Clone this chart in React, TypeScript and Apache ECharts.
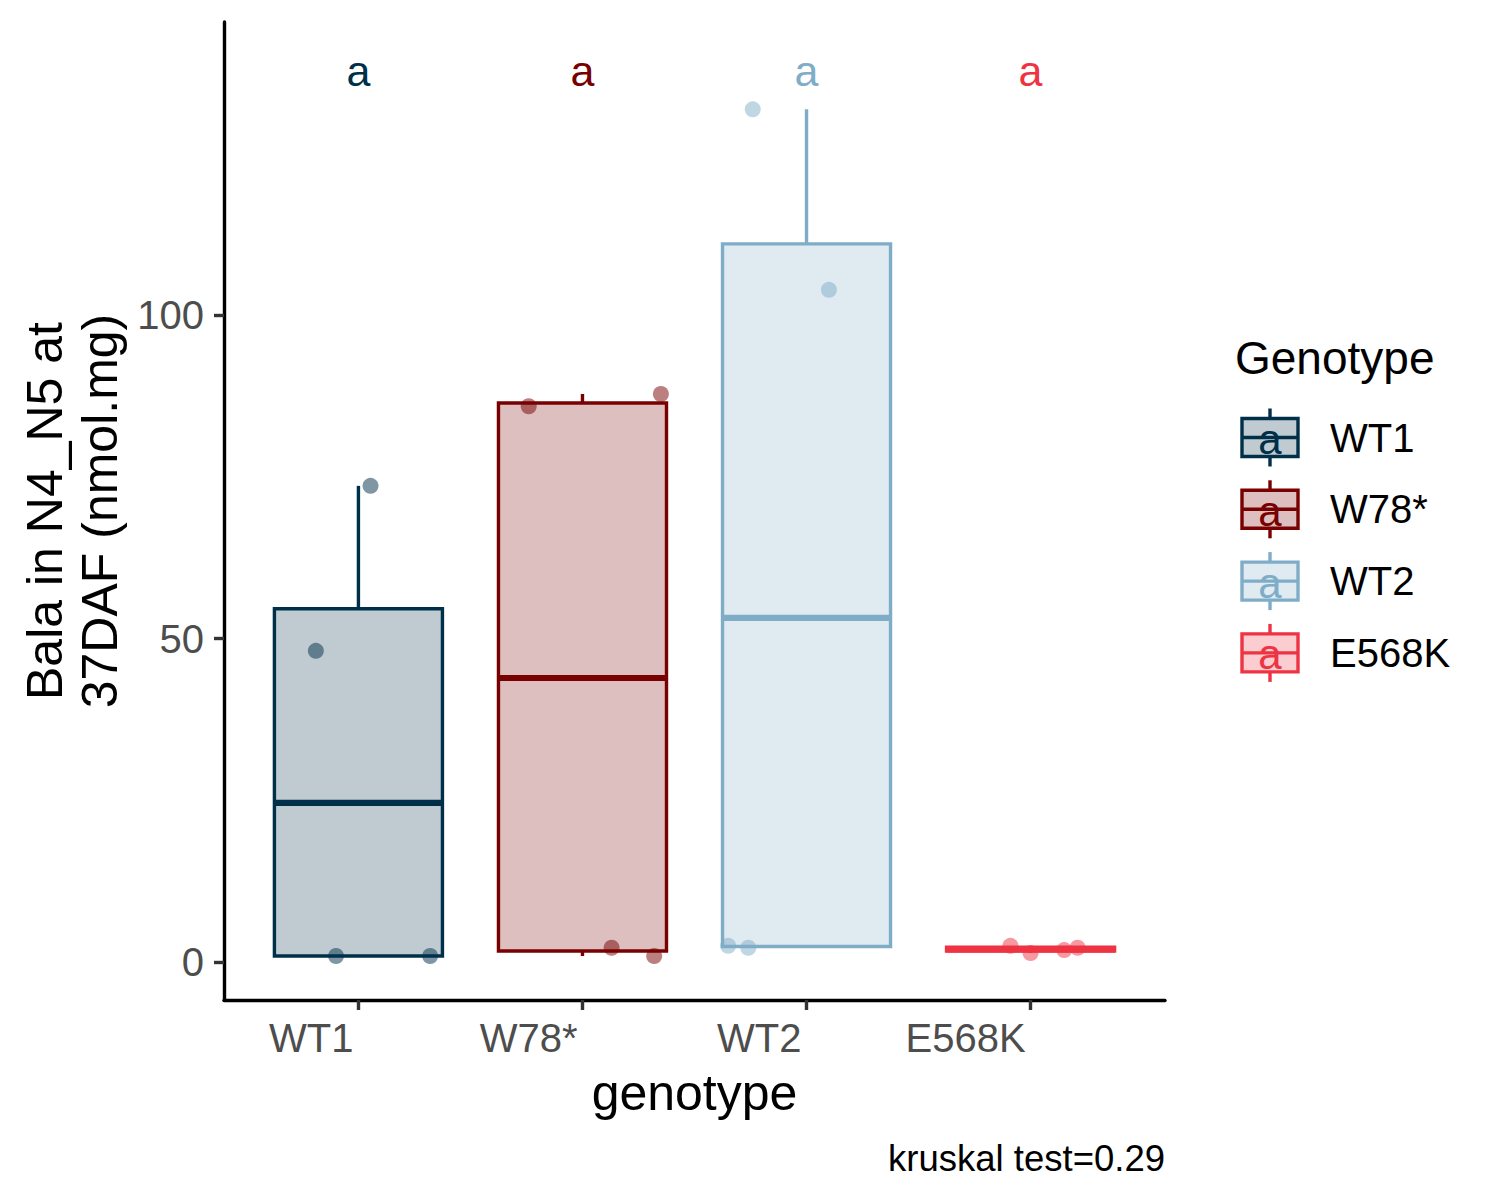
import React, { useEffect, useRef } from "react";
import * as echarts from "echarts";

// ---- data ----
const genotypes = ["WT1", "W78*", "WT2", "E568K"];
const colors = ["#003049", "#780000", "#7fadc8", "#ee3342"];
const whiskerLow = [0.93, 0.93, 2.2, 1.4];
const hingeLow = [0.93, 1.7, 2.4, 1.7];
const medians = [24.6, 43.9, 53.2, 1.95];
const hingeHigh = [54.6, 86.4, 111.0, 2.3];
const whiskerHigh = [73.6, 87.8, 131.8, 2.5];

const pointGroup = [0, 0, 0, 0, 1, 1, 1, 1, 2, 2, 2, 2, 3, 3, 3, 3];
const pointJitter = [-0.19, 0.054, -0.1, 0.32, -0.24, 0.35, 0.13, 0.32, -0.24, 0.1, -0.35, -0.26, -0.09, 0.0, 0.15, 0.21];
const pointValues = [48.1, 73.6, 0.93, 0.93, 85.9, 87.8, 2.2, 0.93, 131.8, 103.9, 2.5, 2.2, 2.5, 1.4, 1.85, 2.2];

const letters = ["a", "a", "a", "a"];
const letterY = 137.8;
const yTicks = [0, 50, 100];
const xTicks = [1, 2, 3, 4];
const captionText = "kruskal test=0.29";
const legendTitle = "Genotype";
const xTitle = "genotype";
const yTitle = "Bala in N4_N5 at\n37DAF (nmol.mg)";

const FONT = "'Liberation Sans', Arial, sans-serif";

function rgba(hex: string, a: number) {
  const h = hex.replace("#", "");
  const r = parseInt(h.slice(0, 2), 16);
  const g = parseInt(h.slice(2, 4), 16);
  const b = parseInt(h.slice(4, 6), 16);
  return `rgba(${r},${g},${b},${a})`;
}

export default function App() {
  const ref = useRef<HTMLDivElement>(null);

  useEffect(() => {
    if (!ref.current) return;
    document.body.style.margin = "0";
    const chart = echarts.init(ref.current, undefined, { renderer: "svg" });

    const half = 0.375;
    const LW = 3.4;
    const MEDLW = 6.2;

    const boxData = genotypes.map((_, i) => [
      i + 1,
      whiskerLow[i],
      hingeLow[i],
      medians[i],
      hingeHigh[i],
      whiskerHigh[i],
    ]);

    const pointSeries = genotypes.map((name, g) => ({
      type: "scatter",
      name,
      symbolSize: 16,
      itemStyle: { color: colors[g], opacity: 0.5 },
      data: pointValues
        .map((v, k) => ({ v, k }))
        .filter((o) => pointGroup[o.k] === g)
        .map((o) => [g + 1 + pointJitter[o.k], o.v]),
      z: 2,
    }));

    // legend graphic
    const legendX0 = 1242;
    const legendX1 = 1298;
    const legendCx = (legendX0 + legendX1) / 2;
    const legendChildren: any[] = [
      {
        type: "text",
        x: 1235,
        y: 358,
        style: {
          text: legendTitle,
          fontSize: 46,
          fontFamily: FONT,
          fill: "#000",
          align: "left",
          verticalAlign: "middle",
        },
      },
    ];
    genotypes.forEach((name, i) => {
      const yc = 437.5 + 71.8 * i;
      const c = colors[i];
      legendChildren.push(
        { type: "line", shape: { x1: legendCx, y1: yc - 29, x2: legendCx, y2: yc - 19 }, style: { stroke: c, lineWidth: LW } },
        { type: "line", shape: { x1: legendCx, y1: yc + 19, x2: legendCx, y2: yc + 29 }, style: { stroke: c, lineWidth: LW } },
        {
          type: "rect",
          shape: { x: legendX0, y: yc - 19, width: legendX1 - legendX0, height: 38 },
          style: { fill: rgba(c, 0.25), stroke: c, lineWidth: LW },
        },
        { type: "line", shape: { x1: legendX0, y1: yc, x2: legendX1, y2: yc }, style: { stroke: c, lineWidth: LW } },
        {
          type: "text",
          x: legendCx,
          y: yc + 2,
          style: { text: letters[i], fontSize: 42, fontFamily: FONT, fill: c, align: "center", verticalAlign: "middle" },
        },
        {
          type: "text",
          x: 1330,
          y: yc,
          style: { text: name, fontSize: 40, fontFamily: FONT, fill: "#000", align: "left", verticalAlign: "middle" },
        }
      );
    });

    const option: any = {
      animation: false,
      backgroundColor: "#fff",
      grid: { left: 224, right: 335, top: 22, bottom: 200, containLabel: false },
      xAxis: {
        type: "value",
        min: 0.4,
        max: 4.6,
        splitLine: { show: false },
        axisLine: { show: true, onZero: false, lineStyle: { color: "#000", width: 3.4 } },
        axisTick: { show: true, length: 10, customValues: xTicks, lineStyle: { color: "#333", width: 3.4 } },
        axisLabel: {
          customValues: xTicks,
          formatter: (v: number) => genotypes[Math.round(v) - 1] ?? "",
          align: "right",
          fontSize: 40,
          fontFamily: FONT,
          color: "#4d4d4d",
          margin: 18,
          padding: [0, 5, 0, 0],
        },
      },
      yAxis: {
        type: "value",
        min: -5.87,
        max: 145.3,
        splitLine: { show: false },
        axisLine: { show: true, onZero: false, lineStyle: { color: "#000", width: 3.4 } },
        axisTick: { show: true, length: 10, customValues: yTicks, lineStyle: { color: "#333", width: 3.4 } },
        axisLabel: {
          customValues: yTicks,
          fontSize: 40,
          fontFamily: FONT,
          color: "#4d4d4d",
          margin: 20,
        },
      },
      series: [
        ...pointSeries,
        {
          type: "custom",
          data: boxData,
          encode: { x: 0, y: [1, 2, 3, 4, 5] },
          clip: false,
          z: 3,
          renderItem: (params: any, api: any) => {
            const i = params.dataIndex;
            const x = api.value(0);
            const c = colors[i];
            const pTL = api.coord([x - half, api.value(4)]);
            const pBR = api.coord([x + half, api.value(2)]);
            const pML = api.coord([x - half, api.value(3)]);
            const pMR = api.coord([x + half, api.value(3)]);
            const pWT = api.coord([x, api.value(5)]);
            const pWB = api.coord([x, api.value(1)]);
            const pHT = api.coord([x, api.value(4)]);
            const pHB = api.coord([x, api.value(2)]);
            return {
              type: "group",
              children: [
                { type: "line", shape: { x1: pHT[0], y1: pHT[1], x2: pWT[0], y2: pWT[1] }, style: { stroke: c, lineWidth: LW } },
                { type: "line", shape: { x1: pHB[0], y1: pHB[1], x2: pWB[0], y2: pWB[1] }, style: { stroke: c, lineWidth: LW } },
                {
                  type: "rect",
                  shape: { x: pTL[0], y: pTL[1], width: pBR[0] - pTL[0], height: pBR[1] - pTL[1] },
                  style: { fill: rgba(c, 0.25), stroke: c, lineWidth: LW },
                },
                { type: "line", shape: { x1: pML[0], y1: pML[1], x2: pMR[0], y2: pMR[1] }, style: { stroke: c, lineWidth: MEDLW } },
              ],
            };
          },
        },
        {
          type: "custom",
          data: genotypes.map((_, i) => [i + 1, letterY]),
          encode: { x: 0, y: 1 },
          clip: false,
          z: 4,
          renderItem: (params: any, api: any) => {
            const i = params.dataIndex;
            const p = api.coord([api.value(0), api.value(1)]);
            return {
              type: "text",
              x: p[0],
              y: p[1],
              style: {
                text: letters[i],
                fontSize: 43,
                fontFamily: FONT,
                fill: colors[i],
                align: "center",
                verticalAlign: "middle",
              },
            };
          },
        },
      ],
      graphic: [
        {
          type: "text",
          x: 72,
          y: 511,
          rotation: Math.PI / 2,
          style: {
            text: yTitle,
            fontSize: 50,
            lineHeight: 55,
            fontFamily: FONT,
            fill: "#000",
            align: "center",
            verticalAlign: "middle",
          },
        },
        {
          type: "text",
          x: 694.5,
          y: 1093,
          style: { text: xTitle, fontSize: 50, fontFamily: FONT, fill: "#000", align: "center", verticalAlign: "middle" },
        },
        {
          type: "text",
          x: 1165,
          y: 1158,
          style: { text: captionText, fontSize: 36.5, fontFamily: FONT, fill: "#000", align: "right", verticalAlign: "middle" },
        },
        { type: "group", children: legendChildren },
      ],
    };

    chart.setOption(option);
    return () => {
      chart.dispose();
    };
  }, []);

  return (
    <div
      ref={ref}
      style={{ position: "absolute", left: 0, top: 0, width: 1500, height: 1200, background: "#fff" }}
    />
  );
}
